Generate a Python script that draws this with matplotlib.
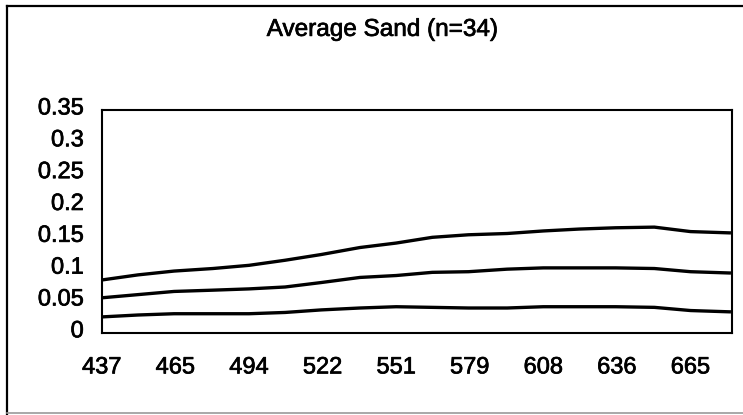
import matplotlib.pyplot as plt
import matplotlib.transforms as mtransforms
import matplotlib.patheffects as pe
from matplotlib.lines import Line2D
import numpy as np

plt.rcParams['font.family'] = ['Liberation Sans', 'DejaVu Sans']

# wavelength (nm) and the three averaged curves
wavelength = [437, 451, 465, 480, 494, 508, 522, 537, 551, 565, 579, 594,
              608, 622, 636, 651, 665, 680]
upper = [0.083, 0.091, 0.097, 0.101, 0.106, 0.114, 0.123, 0.134, 0.141, 0.150,
         0.154, 0.156, 0.160, 0.163, 0.165, 0.166, 0.159, 0.157]
middle = [0.055, 0.060, 0.065, 0.067, 0.069, 0.072, 0.079, 0.087, 0.090, 0.095,
          0.096, 0.100, 0.102, 0.102, 0.102, 0.101, 0.096, 0.094]
lower = [0.025, 0.028, 0.030, 0.030, 0.030, 0.032, 0.036, 0.039, 0.041, 0.040,
         0.039, 0.039, 0.041, 0.041, 0.041, 0.040, 0.035, 0.033]

xtick_pos = [437, 465.5, 494, 522.5, 551, 579.5, 608, 636.5, 665]
xtick_labels = ['437', '465', '494', '522', '551', '579', '608', '636', '665']
ytick_pos = [0, 0.05, 0.1, 0.15, 0.2, 0.25, 0.3, 0.35]
ytick_labels = ['0', '0.05', '0.1', '0.15', '0.2', '0.25', '0.3', '0.35']

# slightly heavier text strokes
heavy = [pe.withStroke(linewidth=0.5, foreground='black')]

fig = plt.figure(figsize=(7.43, 4.15), dpi=100)
ax = fig.add_axes([0.137, 0.198, 0.848, 0.537])

for series in (upper, middle, lower):
    ax.plot(wavelength, series, color='black', lw=2.4)

ax.set_xlim(437, 681)
ax.set_ylim(0, 0.35)
ax.set_xticks(xtick_pos)
ax.set_xticklabels(xtick_labels)
ax.set_yticks(ytick_pos)
ax.set_yticklabels(ytick_labels)
ax.tick_params(axis='both', length=0, labelsize=17)
ax.tick_params(axis='x', pad=17)
ax.tick_params(axis='y', pad=13)
for spine in ax.spines.values():
    spine.set_linewidth(1.5)

# y labels sit a little above their values
shift = mtransforms.ScaledTranslation(0, 4 / 100, fig.dpi_scale_trans)
for lbl in ax.get_yticklabels():
    lbl.set_transform(lbl.get_transform() + shift)
    lbl.set_path_effects(heavy)
for lbl in ax.get_xticklabels():
    lbl.set_path_effects(heavy)

fig.text(0.514, 0.928, 'Average Sand (n=34)', ha='center', va='center',
         fontsize=17.5, path_effects=heavy)

# outer chart frame (no right edge, light bottom)
fig.add_artist(Line2D([0.009, 1.0], [0.986, 0.986], color='black', lw=1.6))
fig.add_artist(Line2D([0.009, 0.009], [0.0, 0.986], color='black', lw=1.6))
fig.add_artist(Line2D([0.009, 1.0], [0.005, 0.005], color='#999999', lw=1.2))

fig.savefig('out.png', dpi=100)
